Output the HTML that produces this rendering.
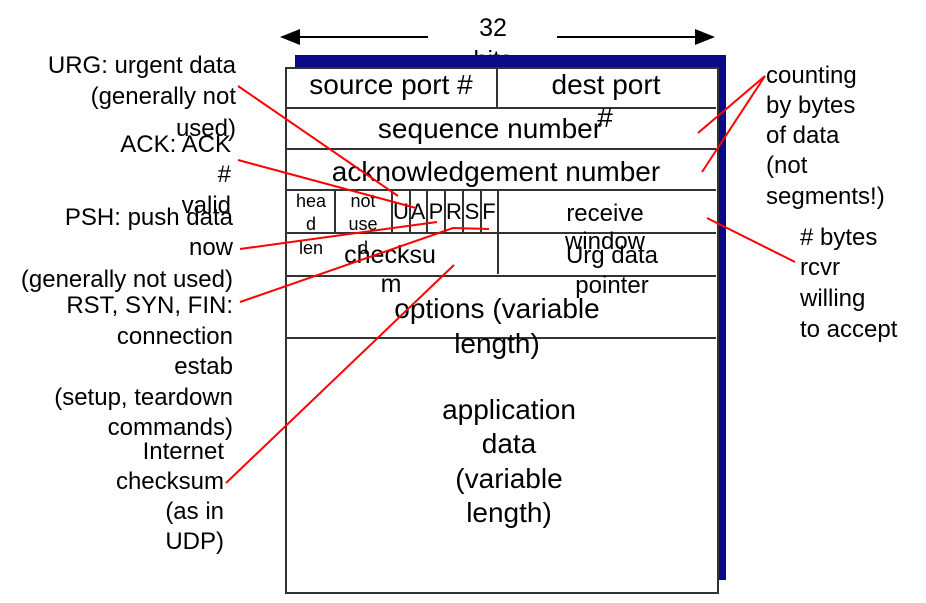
<!DOCTYPE html>
<html><head><meta charset="utf-8"><style>
html,body{margin:0;padding:0;background:#fff}
svg{display:block}
text{font-family:"Liberation Sans",Arial,sans-serif;fill:#000}
</style></head><body>
<svg width="926" height="603" viewBox="0 0 926 603">
<defs><marker id="ah" markerWidth="10" markerHeight="8" refX="9" refY="4" orient="auto"><path d="M0,0 L10,4 L0,8 z" fill="#000"/></marker></defs>
<g stroke="#000" stroke-width="2">
<line x1="428" y1="37" x2="282" y2="37" marker-end="url(#ah)"/>
<line x1="557" y1="37" x2="713" y2="37" marker-end="url(#ah)"/>
</g>
<text x="493" y="36" font-size="25" text-anchor="middle">32</text>
<text x="493" y="68" font-size="25" text-anchor="middle">bits</text>
<rect x="295" y="55" width="431" height="525" fill="#0a0a88"/>
<g stroke="#333" stroke-width="2" fill="#fff">
<rect x="286" y="68" width="432" height="525"/>
<line x1="286" y1="108" x2="716" y2="108"/>
<line x1="286" y1="149" x2="716" y2="149"/>
<line x1="286" y1="190" x2="716" y2="190"/>
<line x1="286" y1="233" x2="716" y2="233"/>
<line x1="286" y1="276" x2="716" y2="276"/>
<line x1="286" y1="338" x2="716" y2="338"/>
<line x1="497" y1="68" x2="497" y2="108"/>
<line x1="498" y1="190" x2="498" y2="274"/>
<line x1="335" y1="190" x2="335" y2="233"/>
<line x1="392" y1="190" x2="392" y2="233"/>
<line x1="410" y1="190" x2="410" y2="233"/>
<line x1="427" y1="190" x2="427" y2="233"/>
<line x1="445" y1="190" x2="445" y2="233"/>
<line x1="463" y1="190" x2="463" y2="233"/>
<line x1="481" y1="190" x2="481" y2="233"/>
</g>
<g font-size="18" text-anchor="middle">
<text x="311" y="207">hea</text><text x="311" y="230">d</text><text x="311" y="254">len</text>
<text x="363" y="207">not</text><text x="363" y="230">use</text><text x="363" y="254">d</text>
<text x="401" y="219" font-size="22">U</text><text x="418" y="219" font-size="22">A</text>
<text x="436" y="219" font-size="22">P</text><text x="454" y="219" font-size="22">R</text>
<text x="472" y="219" font-size="22">S</text><text x="489" y="219" font-size="22">F</text>
</g>
<g font-size="28" text-anchor="middle">
<text x="391" y="94">source port #</text>
<text x="606" y="94">dest port</text>
<text x="605" y="127">#</text>
<text x="490" y="138">sequence number</text>
<text x="496" y="181">acknowledgement number</text>
<text x="390" y="263" font-size="25">checksu</text>
<text x="391" y="292" font-size="25">m</text>
<text x="605" y="221" font-size="24">receive</text>
<text x="605" y="249" font-size="24">window</text>
<text x="612" y="263" font-size="24">Urg data</text>
<text x="612" y="293" font-size="24">pointer</text>
<text x="497" y="318">options (variable</text>
<text x="497" y="353">length)</text>
<text x="509" y="419">application</text>
<text x="509" y="453">data</text>
<text x="509" y="488">(variable</text>
<text x="509" y="522">length)</text>
</g>
<g font-size="24" text-anchor="end">
<text x="236" y="73">URG: urgent data</text>
<text x="236" y="104">(generally not</text>
<text x="236" y="136">used)</text>
<text x="231" y="152">ACK: ACK</text>
<text x="231" y="182">#</text>
<text x="231" y="213">valid</text>
<text x="233" y="225">PSH: push data</text>
<text x="233" y="255">now</text>
<text x="233" y="287">(generally not used)</text>
<text x="233" y="313">RST, SYN, FIN:</text>
<text x="233" y="344">connection</text>
<text x="233" y="374">estab</text>
<text x="233" y="405">(setup, teardown</text>
<text x="233" y="435">commands)</text>
<text x="224" y="459">Internet</text>
<text x="224" y="489">checksum</text>
<text x="224" y="519">(as in</text>
<text x="224" y="549">UDP)</text>
</g>
<g font-size="24">
<text x="766" y="83">counting</text>
<text x="766" y="113">by bytes</text>
<text x="766" y="143">of data</text>
<text x="766" y="173">(not</text>
<text x="766" y="204">segments!)</text>
<text x="800" y="245"># bytes</text>
<text x="800" y="275">rcvr</text>
<text x="800" y="306">willing</text>
<text x="800" y="337">to accept</text>
</g>
<g stroke="#f00" stroke-width="2" fill="none">
<line x1="238" y1="86" x2="398" y2="196"/>
<line x1="238" y1="160" x2="416" y2="208"/>
<line x1="240" y1="249" x2="437" y2="222"/>
<polyline points="240,302 453,228 489,229"/>
<line x1="226" y1="483" x2="454" y2="265"/>
<line x1="765" y1="76" x2="698" y2="133"/>
<line x1="765" y1="76" x2="702" y2="172"/>
<line x1="795" y1="262" x2="707" y2="218"/>
</g>
</svg>
</body></html>
